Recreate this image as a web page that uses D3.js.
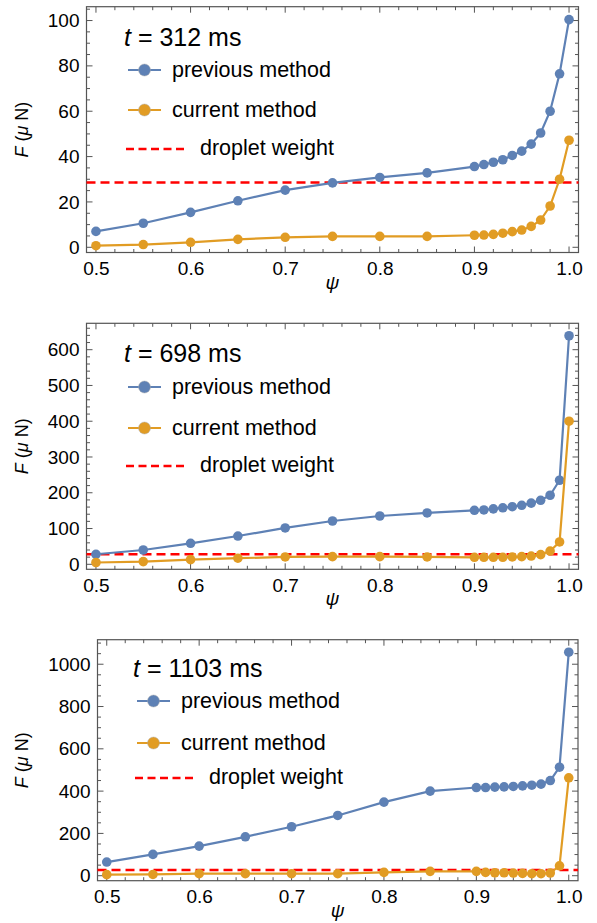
<!DOCTYPE html>
<html>
<head>
<meta charset="utf-8">
<script src="https://cdn.jsdelivr.net/npm/d3@7"></script>
<style>
  html, body { margin: 0; padding: 0; background: #fff; }
  svg { display: block; }
  text { font-family: "Liberation Sans", Arial, sans-serif; fill: #000; }
</style>
</head>
<body>
<svg id="chart" width="597" height="923"></svg>
<script>
// ---------- data ----------
const psi = [0.5, 0.55, 0.6, 0.65, 0.7, 0.75, 0.8, 0.85, 0.9, 0.91, 0.92, 0.93, 0.94, 0.95, 0.96, 0.97, 0.98, 0.99, 1.0];

const times = ["312", "698", "1103"];

const prev312 = [7.0, 10.6, 15.4, 20.5, 25.2, 28.4, 30.8, 32.8, 35.6, 36.5, 37.5, 38.6, 40.5, 42.4, 45.5, 50.4, 60.0, 76.5, 100.4];
const curr312 = [0.7, 1.2, 2.2, 3.5, 4.4, 4.8, 4.8, 4.8, 5.3, 5.4, 5.7, 6.2, 6.9, 7.6, 9.2, 12.0, 18.2, 30.0, 47.2];
const weight312 = 28.6;

const prev698 = [28, 40, 58.7, 79, 101.6, 121, 135, 143.5, 151, 152, 155, 158, 161, 165, 171, 179, 193, 235, 639];
const curr698 = [5, 7.5, 13, 17, 20.5, 21.4, 21.4, 20.5, 19.6, 19.6, 19.6, 19.6, 20.5, 21.4, 23, 27, 37, 62.4, 400];
const weight698 = 28;

const prev1103 = [64.6, 100.8, 140, 184, 231.5, 285, 348, 400, 417, 417, 419, 420, 422, 425, 428, 433, 450, 513, 1057];
const curr1103 = [5, 6, 9.5, 9.5, 9.5, 9.5, 15.7, 20.5, 20.5, 15.7, 14, 14, 12.6, 11, 9.5, 9.5, 12.6, 47, 463];
const weight1103 = 27;

const xTicks = [0.5, 0.6, 0.7, 0.8, 0.9, 1.0];
const yTicks312 = [0, 20, 40, 60, 80, 100];
const yTicks698 = [0, 100, 200, 300, 400, 500, 600];
const yTicks1103 = [0, 200, 400, 600, 800, 1000];

const legendLabels = ["previous method", "current method", "droplet weight"];

// ---------- styles / layout ----------
const BLUE = "#5E81B5", ORANGE = "#E19C24", RED = "#FF0000", FRAME = "#555";
const FONT = "Liberation Sans, Arial, sans-serif";

const panels = [
  { t: times[0], prev: prev312, curr: curr312, w: weight312, yTicks: yTicks312, minor: 5,
    yDom: [-2.3, 106.1], yPx: [252.5, 6.7], xPx: [86.5, 578.5],
    titleY: 46, rows: [70, 110, 149], legX: 124 },
  { t: times[1], prev: prev698, curr: curr698, w: weight698, yTicks: yTicks698, minor: 20,
    yDom: [-14, 673.8], yPx: [569.3, 323.3], xPx: [86.5, 578.5],
    titleY: 362, rows: [387, 428, 466], legX: 124 },
  { t: times[2], prev: prev1103, curr: curr1103, w: weight1103, yTicks: yTicks1103, minor: 50,
    yDom: [-23.6, 1116], yPx: [880.7, 639.7], xPx: [97.5, 578],
    titleY: 677, rows: [701, 743, 778], legX: 133 }
];

const svg = d3.select("#chart");
svg.append("rect").attr("width", 597).attr("height", 923).attr("fill", "#fff");

panels.forEach(p => {
  const x = d3.scaleLinear().domain([0.49, 1.01]).range(p.xPx);
  const y = d3.scaleLinear().domain(p.yDom).range(p.yPx);
  const g = svg.append("g");
  const [x0, x1] = p.xPx;
  const [yb, yt] = p.yPx;

  // minor & major ticks (inward, all four sides)
  const xMinor = d3.range(0.5, 1.0001, 0.02).map(v => +v.toFixed(2));
  const yMinor = d3.range(0, p.yDom[1], p.minor);
  const tickG = g.append("g").attr("stroke", FRAME).attr("stroke-width", 1);
  xMinor.forEach(v => {
    const major = xTicks.some(t => Math.abs(t - v) < 1e-6);
    const len = major ? 6 : 3.5;
    tickG.append("line").attr("x1", x(v)).attr("x2", x(v)).attr("y1", yb).attr("y2", yb - len);
    tickG.append("line").attr("x1", x(v)).attr("x2", x(v)).attr("y1", yt).attr("y2", yt + len);
  });
  yMinor.forEach(v => {
    const major = p.yTicks.includes(v);
    const len = major ? 6 : 3.5;
    tickG.append("line").attr("y1", y(v)).attr("y2", y(v)).attr("x1", x0).attr("x2", x0 + len);
    tickG.append("line").attr("y1", y(v)).attr("y2", y(v)).attr("x1", x1).attr("x2", x1 - len);
  });

  // frame
  g.append("rect").attr("x", x0).attr("y", yt).attr("width", x1 - x0).attr("height", yb - yt)
    .attr("fill", "none").attr("stroke", FRAME).attr("stroke-width", 1.2);

  // tick labels via d3 axes
  const xAxis = d3.axisBottom(x).tickValues(xTicks).tickFormat(d3.format(".1f")).tickSize(0).tickPadding(9);
  const xa = g.append("g").attr("transform", `translate(0,${yb})`).call(xAxis);
  xa.select(".domain").remove();
  xa.selectAll("text").attr("font-size", 19).attr("font-family", FONT).attr("fill", "#000");

  const yAxis = d3.axisLeft(y).tickValues(p.yTicks).tickFormat(d3.format("d")).tickSize(0).tickPadding(7);
  const ya = g.append("g").attr("transform", `translate(${x0},0)`).call(yAxis);
  ya.select(".domain").remove();
  ya.selectAll("text").attr("font-size", 19).attr("font-family", FONT).attr("fill", "#000");

  // axis titles
  g.append("text").attr("x", (x0 + x1) / 2).attr("y", yb + 36).attr("text-anchor", "middle")
    .attr("font-size", 19).attr("font-style", "italic").text("ψ");
  const yl = g.append("text").attr("transform", `translate(28,${(yb + yt) / 2}) rotate(-90)`)
    .attr("text-anchor", "middle").attr("font-size", 18);
  yl.append("tspan").attr("font-style", "italic").text("F");
  yl.append("tspan").text(" (");
  yl.append("tspan").attr("font-style", "italic").text("μ");
  yl.append("tspan").text(" N)");

  // droplet weight
  g.append("line").attr("x1", x0).attr("x2", x1).attr("y1", y(p.w)).attr("y2", y(p.w))
    .attr("stroke", RED).attr("stroke-width", 2.5).attr("stroke-dasharray", "9,5");

  // series
  const series = [{ vals: p.prev, c: BLUE }, { vals: p.curr, c: ORANGE }];
  series.forEach(s => {
    const pts = psi.map((v, i) => [v, s.vals[i]]);
    g.append("path").datum(pts)
      .attr("d", d3.line().x(d => x(d[0])).y(d => y(d[1])))
      .attr("fill", "none").attr("stroke", s.c).attr("stroke-width", 2.2);
    g.selectAll(null).data(pts).enter().append("circle")
      .attr("cx", d => x(d[0])).attr("cy", d => y(d[1])).attr("r", 4.8)
      .attr("fill", s.c);
  });

  // title
  const tt = g.append("text").attr("x", p.legX).attr("y", p.titleY).attr("font-size", 25);
  tt.append("tspan").attr("font-style", "italic").text("t");
  tt.append("tspan").text(" = " + p.t + " ms");

  // legend
  const lx = p.legX;
  [BLUE, ORANGE].forEach((c, i) => {
    const yy = p.rows[i];
    g.append("line").attr("x1", lx + 4).attr("x2", lx + 37).attr("y1", yy).attr("y2", yy)
      .attr("stroke", c).attr("stroke-width", 2.2);
    g.append("circle").attr("cx", lx + 20.5).attr("cy", yy).attr("r", 6)
      .attr("fill", c).attr("stroke", "#aaa").attr("stroke-width", 0.8).attr("stroke-opacity", 0.6);
    g.append("text").attr("x", lx + 48).attr("y", yy + 7).attr("font-size", 21.5).text(legendLabels[i]);
  });
  g.append("line").attr("x1", lx + 2).attr("x2", lx + 63).attr("y1", p.rows[2]).attr("y2", p.rows[2])
    .attr("stroke", RED).attr("stroke-width", 2.5).attr("stroke-dasharray", "8,4.5");
  g.append("text").attr("x", lx + 76).attr("y", p.rows[2] + 6).attr("font-size", 21.5).text(legendLabels[2]);
});
</script>
</body>
</html>
